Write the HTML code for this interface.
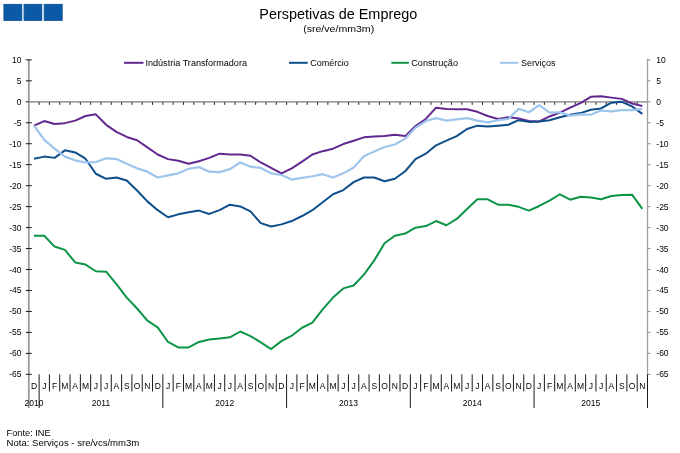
<!DOCTYPE html><html><head><meta charset="utf-8"><style>html,body{margin:0;padding:0;background:#fff;width:680px;height:453px;overflow:hidden}svg{display:block;will-change:transform}text{font-family:"Liberation Sans",sans-serif;fill:#000}</style></head><body>
<svg width="680" height="453" viewBox="0 0 680 453">
<rect width="680" height="453" fill="#fff"/>
<rect x="21.8" y="4.2" width="2.2" height="16.4" fill="#b9d7ef"/>
<rect x="41.8" y="4.2" width="2.4" height="16.4" fill="#b9d7ef"/>
<rect x="3.9" y="4.3" width="17.7" height="16.1" fill="#0A5AA8" stroke="#0B4C8E" stroke-width="0.8"/>
<rect x="24.2" y="4.3" width="17.4" height="16.1" fill="#0A5AA8" stroke="#0B4C8E" stroke-width="0.8"/>
<rect x="44.5" y="4.3" width="17.7" height="16.1" fill="#0A5AA8" stroke="#0B4C8E" stroke-width="0.8"/>
<text x="338.3" y="19" font-size="14" text-anchor="middle" textLength="158" lengthAdjust="spacingAndGlyphs">Perspetivas de Emprego</text>
<text x="338.7" y="32" font-size="9.5" text-anchor="middle" textLength="71" lengthAdjust="spacingAndGlyphs">(sre/ve/mm3m)</text>
<line x1="124" y1="62.8" x2="143.5" y2="62.8" stroke="#62288F" stroke-width="2"/>
<text x="145.4" y="65.8" font-size="8.5" textLength="101.6" lengthAdjust="spacingAndGlyphs">Indústria Transformadora</text>
<line x1="289" y1="62.8" x2="307.7" y2="62.8" stroke="#0E4E8B" stroke-width="2"/>
<text x="310.3" y="65.8" font-size="8.5" textLength="38.5" lengthAdjust="spacingAndGlyphs">Comércio</text>
<line x1="391.3" y1="62.8" x2="408.8" y2="62.8" stroke="#0E9447" stroke-width="2"/>
<text x="411.2" y="65.8" font-size="8.5" textLength="46.8" lengthAdjust="spacingAndGlyphs">Construção</text>
<line x1="499.9" y1="62.8" x2="518.4" y2="62.8" stroke="#9EC5EC" stroke-width="2"/>
<text x="521" y="65.8" font-size="8.5" textLength="34.4" lengthAdjust="spacingAndGlyphs">Serviços</text>
<line x1="28.8" y1="59" x2="28.8" y2="408" stroke="#9a9a9a" stroke-width="1.8"/>
<line x1="647.5" y1="59" x2="647.5" y2="374.5" stroke="#a0a0a0" stroke-width="1.3"/>
<line x1="25.8" y1="59.87" x2="31.8" y2="59.87" stroke="#1a1a1a" stroke-width="1"/>
<line x1="647.5" y1="59.87" x2="650.5" y2="59.87" stroke="#8c8c8c" stroke-width="1"/>
<text x="21.5" y="62.87" font-size="8.5" text-anchor="end">10</text>
<text x="656.3" y="62.87" font-size="8.5">10</text>
<line x1="25.8" y1="80.84" x2="31.8" y2="80.84" stroke="#1a1a1a" stroke-width="1"/>
<line x1="647.5" y1="80.84" x2="650.5" y2="80.84" stroke="#8c8c8c" stroke-width="1"/>
<text x="21.5" y="83.84" font-size="8.5" text-anchor="end">5</text>
<text x="656.3" y="83.84" font-size="8.5">5</text>
<line x1="25.8" y1="101.80" x2="31.8" y2="101.80" stroke="#1a1a1a" stroke-width="1"/>
<line x1="647.5" y1="101.80" x2="650.5" y2="101.80" stroke="#8c8c8c" stroke-width="1"/>
<text x="21.5" y="104.80" font-size="8.5" text-anchor="end">0</text>
<text x="656.3" y="104.80" font-size="8.5">0</text>
<line x1="25.8" y1="122.76" x2="31.8" y2="122.76" stroke="#1a1a1a" stroke-width="1"/>
<line x1="647.5" y1="122.76" x2="650.5" y2="122.76" stroke="#8c8c8c" stroke-width="1"/>
<text x="21.5" y="125.76" font-size="8.5" text-anchor="end">-5</text>
<text x="656.3" y="125.76" font-size="8.5">-5</text>
<line x1="25.8" y1="143.73" x2="31.8" y2="143.73" stroke="#1a1a1a" stroke-width="1"/>
<line x1="647.5" y1="143.73" x2="650.5" y2="143.73" stroke="#8c8c8c" stroke-width="1"/>
<text x="21.5" y="146.73" font-size="8.5" text-anchor="end">-10</text>
<text x="656.3" y="146.73" font-size="8.5">-10</text>
<line x1="25.8" y1="164.69" x2="31.8" y2="164.69" stroke="#1a1a1a" stroke-width="1"/>
<line x1="647.5" y1="164.69" x2="650.5" y2="164.69" stroke="#8c8c8c" stroke-width="1"/>
<text x="21.5" y="167.69" font-size="8.5" text-anchor="end">-15</text>
<text x="656.3" y="167.69" font-size="8.5">-15</text>
<line x1="25.8" y1="185.66" x2="31.8" y2="185.66" stroke="#1a1a1a" stroke-width="1"/>
<line x1="647.5" y1="185.66" x2="650.5" y2="185.66" stroke="#8c8c8c" stroke-width="1"/>
<text x="21.5" y="188.66" font-size="8.5" text-anchor="end">-20</text>
<text x="656.3" y="188.66" font-size="8.5">-20</text>
<line x1="25.8" y1="206.62" x2="31.8" y2="206.62" stroke="#1a1a1a" stroke-width="1"/>
<line x1="647.5" y1="206.62" x2="650.5" y2="206.62" stroke="#8c8c8c" stroke-width="1"/>
<text x="21.5" y="209.62" font-size="8.5" text-anchor="end">-25</text>
<text x="656.3" y="209.62" font-size="8.5">-25</text>
<line x1="25.8" y1="227.59" x2="31.8" y2="227.59" stroke="#1a1a1a" stroke-width="1"/>
<line x1="647.5" y1="227.59" x2="650.5" y2="227.59" stroke="#8c8c8c" stroke-width="1"/>
<text x="21.5" y="230.59" font-size="8.5" text-anchor="end">-30</text>
<text x="656.3" y="230.59" font-size="8.5">-30</text>
<line x1="25.8" y1="248.56" x2="31.8" y2="248.56" stroke="#1a1a1a" stroke-width="1"/>
<line x1="647.5" y1="248.56" x2="650.5" y2="248.56" stroke="#8c8c8c" stroke-width="1"/>
<text x="21.5" y="251.56" font-size="8.5" text-anchor="end">-35</text>
<text x="656.3" y="251.56" font-size="8.5">-35</text>
<line x1="25.8" y1="269.52" x2="31.8" y2="269.52" stroke="#1a1a1a" stroke-width="1"/>
<line x1="647.5" y1="269.52" x2="650.5" y2="269.52" stroke="#8c8c8c" stroke-width="1"/>
<text x="21.5" y="272.52" font-size="8.5" text-anchor="end">-40</text>
<text x="656.3" y="272.52" font-size="8.5">-40</text>
<line x1="25.8" y1="290.48" x2="31.8" y2="290.48" stroke="#1a1a1a" stroke-width="1"/>
<line x1="647.5" y1="290.48" x2="650.5" y2="290.48" stroke="#8c8c8c" stroke-width="1"/>
<text x="21.5" y="293.48" font-size="8.5" text-anchor="end">-45</text>
<text x="656.3" y="293.48" font-size="8.5">-45</text>
<line x1="25.8" y1="311.45" x2="31.8" y2="311.45" stroke="#1a1a1a" stroke-width="1"/>
<line x1="647.5" y1="311.45" x2="650.5" y2="311.45" stroke="#8c8c8c" stroke-width="1"/>
<text x="21.5" y="314.45" font-size="8.5" text-anchor="end">-50</text>
<text x="656.3" y="314.45" font-size="8.5">-50</text>
<line x1="25.8" y1="332.41" x2="31.8" y2="332.41" stroke="#1a1a1a" stroke-width="1"/>
<line x1="647.5" y1="332.41" x2="650.5" y2="332.41" stroke="#8c8c8c" stroke-width="1"/>
<text x="21.5" y="335.41" font-size="8.5" text-anchor="end">-55</text>
<text x="656.3" y="335.41" font-size="8.5">-55</text>
<line x1="25.8" y1="353.38" x2="31.8" y2="353.38" stroke="#1a1a1a" stroke-width="1"/>
<line x1="647.5" y1="353.38" x2="650.5" y2="353.38" stroke="#8c8c8c" stroke-width="1"/>
<text x="21.5" y="356.38" font-size="8.5" text-anchor="end">-60</text>
<text x="656.3" y="356.38" font-size="8.5">-60</text>
<line x1="25.8" y1="374.34" x2="31.8" y2="374.34" stroke="#1a1a1a" stroke-width="1"/>
<line x1="647.5" y1="374.34" x2="650.5" y2="374.34" stroke="#8c8c8c" stroke-width="1"/>
<text x="21.5" y="377.34" font-size="8.5" text-anchor="end">-65</text>
<text x="656.3" y="377.34" font-size="8.5">-65</text>
<line x1="28.8" y1="101.89999999999999" x2="647.5" y2="101.89999999999999" stroke="#a0a0a0" stroke-width="1.9"/>
<line x1="39.11" y1="102.3" x2="39.11" y2="104.8" stroke="#1a1a1a" stroke-width="1"/>
<line x1="49.42" y1="102.3" x2="49.42" y2="104.8" stroke="#1a1a1a" stroke-width="1"/>
<line x1="59.73" y1="102.3" x2="59.73" y2="104.8" stroke="#1a1a1a" stroke-width="1"/>
<line x1="70.05" y1="102.3" x2="70.05" y2="104.8" stroke="#1a1a1a" stroke-width="1"/>
<line x1="80.36" y1="102.3" x2="80.36" y2="104.8" stroke="#1a1a1a" stroke-width="1"/>
<line x1="90.67" y1="102.3" x2="90.67" y2="104.8" stroke="#1a1a1a" stroke-width="1"/>
<line x1="100.98" y1="102.3" x2="100.98" y2="104.8" stroke="#1a1a1a" stroke-width="1"/>
<line x1="111.29" y1="102.3" x2="111.29" y2="104.8" stroke="#1a1a1a" stroke-width="1"/>
<line x1="121.61" y1="102.3" x2="121.61" y2="104.8" stroke="#1a1a1a" stroke-width="1"/>
<line x1="131.92" y1="102.3" x2="131.92" y2="104.8" stroke="#1a1a1a" stroke-width="1"/>
<line x1="142.23" y1="102.3" x2="142.23" y2="104.8" stroke="#1a1a1a" stroke-width="1"/>
<line x1="152.54" y1="102.3" x2="152.54" y2="104.8" stroke="#1a1a1a" stroke-width="1"/>
<line x1="162.85" y1="102.3" x2="162.85" y2="104.8" stroke="#1a1a1a" stroke-width="1"/>
<line x1="173.16" y1="102.3" x2="173.16" y2="104.8" stroke="#1a1a1a" stroke-width="1"/>
<line x1="183.48" y1="102.3" x2="183.48" y2="104.8" stroke="#1a1a1a" stroke-width="1"/>
<line x1="193.79" y1="102.3" x2="193.79" y2="104.8" stroke="#1a1a1a" stroke-width="1"/>
<line x1="204.10" y1="102.3" x2="204.10" y2="104.8" stroke="#1a1a1a" stroke-width="1"/>
<line x1="214.41" y1="102.3" x2="214.41" y2="104.8" stroke="#1a1a1a" stroke-width="1"/>
<line x1="224.72" y1="102.3" x2="224.72" y2="104.8" stroke="#1a1a1a" stroke-width="1"/>
<line x1="235.03" y1="102.3" x2="235.03" y2="104.8" stroke="#1a1a1a" stroke-width="1"/>
<line x1="245.35" y1="102.3" x2="245.35" y2="104.8" stroke="#1a1a1a" stroke-width="1"/>
<line x1="255.66" y1="102.3" x2="255.66" y2="104.8" stroke="#1a1a1a" stroke-width="1"/>
<line x1="265.97" y1="102.3" x2="265.97" y2="104.8" stroke="#1a1a1a" stroke-width="1"/>
<line x1="276.28" y1="102.3" x2="276.28" y2="104.8" stroke="#1a1a1a" stroke-width="1"/>
<line x1="286.59" y1="102.3" x2="286.59" y2="104.8" stroke="#1a1a1a" stroke-width="1"/>
<line x1="296.90" y1="102.3" x2="296.90" y2="104.8" stroke="#1a1a1a" stroke-width="1"/>
<line x1="307.22" y1="102.3" x2="307.22" y2="104.8" stroke="#1a1a1a" stroke-width="1"/>
<line x1="317.53" y1="102.3" x2="317.53" y2="104.8" stroke="#1a1a1a" stroke-width="1"/>
<line x1="327.84" y1="102.3" x2="327.84" y2="104.8" stroke="#1a1a1a" stroke-width="1"/>
<line x1="338.15" y1="102.3" x2="338.15" y2="104.8" stroke="#1a1a1a" stroke-width="1"/>
<line x1="348.46" y1="102.3" x2="348.46" y2="104.8" stroke="#1a1a1a" stroke-width="1"/>
<line x1="358.77" y1="102.3" x2="358.77" y2="104.8" stroke="#1a1a1a" stroke-width="1"/>
<line x1="369.09" y1="102.3" x2="369.09" y2="104.8" stroke="#1a1a1a" stroke-width="1"/>
<line x1="379.40" y1="102.3" x2="379.40" y2="104.8" stroke="#1a1a1a" stroke-width="1"/>
<line x1="389.71" y1="102.3" x2="389.71" y2="104.8" stroke="#1a1a1a" stroke-width="1"/>
<line x1="400.02" y1="102.3" x2="400.02" y2="104.8" stroke="#1a1a1a" stroke-width="1"/>
<line x1="410.33" y1="102.3" x2="410.33" y2="104.8" stroke="#1a1a1a" stroke-width="1"/>
<line x1="420.64" y1="102.3" x2="420.64" y2="104.8" stroke="#1a1a1a" stroke-width="1"/>
<line x1="430.96" y1="102.3" x2="430.96" y2="104.8" stroke="#1a1a1a" stroke-width="1"/>
<line x1="441.27" y1="102.3" x2="441.27" y2="104.8" stroke="#1a1a1a" stroke-width="1"/>
<line x1="451.58" y1="102.3" x2="451.58" y2="104.8" stroke="#1a1a1a" stroke-width="1"/>
<line x1="461.89" y1="102.3" x2="461.89" y2="104.8" stroke="#1a1a1a" stroke-width="1"/>
<line x1="472.20" y1="102.3" x2="472.20" y2="104.8" stroke="#1a1a1a" stroke-width="1"/>
<line x1="482.51" y1="102.3" x2="482.51" y2="104.8" stroke="#1a1a1a" stroke-width="1"/>
<line x1="492.83" y1="102.3" x2="492.83" y2="104.8" stroke="#1a1a1a" stroke-width="1"/>
<line x1="503.14" y1="102.3" x2="503.14" y2="104.8" stroke="#1a1a1a" stroke-width="1"/>
<line x1="513.45" y1="102.3" x2="513.45" y2="104.8" stroke="#1a1a1a" stroke-width="1"/>
<line x1="523.76" y1="102.3" x2="523.76" y2="104.8" stroke="#1a1a1a" stroke-width="1"/>
<line x1="534.07" y1="102.3" x2="534.07" y2="104.8" stroke="#1a1a1a" stroke-width="1"/>
<line x1="544.38" y1="102.3" x2="544.38" y2="104.8" stroke="#1a1a1a" stroke-width="1"/>
<line x1="554.69" y1="102.3" x2="554.69" y2="104.8" stroke="#1a1a1a" stroke-width="1"/>
<line x1="565.01" y1="102.3" x2="565.01" y2="104.8" stroke="#1a1a1a" stroke-width="1"/>
<line x1="575.32" y1="102.3" x2="575.32" y2="104.8" stroke="#1a1a1a" stroke-width="1"/>
<line x1="585.63" y1="102.3" x2="585.63" y2="104.8" stroke="#1a1a1a" stroke-width="1"/>
<line x1="595.94" y1="102.3" x2="595.94" y2="104.8" stroke="#1a1a1a" stroke-width="1"/>
<line x1="606.25" y1="102.3" x2="606.25" y2="104.8" stroke="#1a1a1a" stroke-width="1"/>
<line x1="616.56" y1="102.3" x2="616.56" y2="104.8" stroke="#1a1a1a" stroke-width="1"/>
<line x1="626.88" y1="102.3" x2="626.88" y2="104.8" stroke="#1a1a1a" stroke-width="1"/>
<line x1="637.19" y1="102.3" x2="637.19" y2="104.8" stroke="#1a1a1a" stroke-width="1"/>
<polyline points="33.96,125.65 44.27,121.05 54.58,123.98 64.89,123.14 75.20,120.63 85.51,116.03 95.83,114.35 106.14,124.81 116.45,131.92 126.76,136.95 137.07,140.29 147.38,147.41 157.70,154.52 168.01,159.12 178.32,160.79 188.63,163.72 198.94,161.21 209.25,157.87 219.57,153.68 229.88,154.52 240.19,154.52 250.50,155.77 260.81,162.47 271.12,167.91 281.44,173.35 291.75,168.33 302.06,161.63 312.37,154.52 322.68,151.17 332.99,148.66 343.31,144.06 353.62,140.71 363.93,137.36 374.24,136.53 384.55,136.11 394.86,134.85 405.18,136.11 415.49,126.07 425.80,118.95 436.11,107.66 446.42,108.91 456.73,109.33 467.05,109.33 477.36,111.84 487.67,116.03 497.98,118.95 508.29,117.28 518.60,118.54 528.92,121.05 539.23,121.46 549.54,116.44 559.85,112.68 570.16,107.66 580.47,103.06 590.79,96.78 601.10,96.36 611.41,97.62 621.72,98.87 632.03,103.47 642.34,105.98" fill="none" stroke="#62288F" stroke-width="2.0" stroke-linejoin="round" stroke-linecap="butt"/>
<polyline points="33.96,158.70 44.27,156.61 54.58,157.87 64.89,150.33 75.20,152.43 85.51,158.70 95.83,173.76 106.14,178.79 116.45,177.53 126.76,180.46 137.07,190.50 147.38,201.38 157.70,210.17 168.01,217.28 178.32,214.35 188.63,212.26 198.94,210.58 209.25,213.93 219.57,210.17 229.88,204.73 240.19,206.40 250.50,211.42 260.81,223.14 271.12,226.48 281.44,224.39 291.75,221.04 302.06,216.02 312.37,210.17 322.68,202.22 332.99,194.27 343.31,190.08 353.62,182.13 363.93,177.53 374.24,177.53 384.55,181.30 394.86,178.79 405.18,171.25 415.49,159.12 425.80,153.68 436.11,145.31 446.42,140.71 456.73,136.11 467.05,129.00 477.36,125.65 487.67,126.49 497.98,125.65 508.29,124.81 518.60,120.21 528.92,121.88 539.23,121.46 549.54,120.21 559.85,117.28 570.16,114.77 580.47,113.10 590.79,109.75 601.10,108.49 611.41,102.64 621.72,101.80 632.03,106.40 642.34,113.93" fill="none" stroke="#0E4E8B" stroke-width="2.0" stroke-linejoin="round" stroke-linecap="butt"/>
<polyline points="33.96,235.69 44.27,235.69 54.58,246.57 64.89,249.91 75.20,262.47 85.51,264.56 95.83,271.25 106.14,271.67 116.45,284.22 126.76,297.61 137.07,308.49 147.38,320.62 157.70,327.32 168.01,341.96 178.32,347.40 188.63,347.40 198.94,341.96 209.25,339.45 219.57,338.61 229.88,337.36 240.19,331.50 250.50,336.10 260.81,342.38 271.12,349.07 281.44,341.12 291.75,335.69 302.06,327.74 312.37,322.72 322.68,309.33 332.99,297.61 343.31,288.41 353.62,285.48 363.93,274.60 374.24,260.37 384.55,243.22 394.86,235.69 405.18,233.60 415.49,227.74 425.80,226.06 436.11,221.04 446.42,225.23 456.73,218.95 467.05,208.91 477.36,199.29 487.67,199.29 497.98,204.73 508.29,204.73 518.60,206.82 528.92,210.58 539.23,205.98 549.54,200.54 559.85,194.27 570.16,199.71 580.47,196.78 590.79,197.61 601.10,199.29 611.41,195.94 621.72,195.10 632.03,194.68 642.34,208.91" fill="none" stroke="#0E9447" stroke-width="2.0" stroke-linejoin="round" stroke-linecap="butt"/>
<polyline points="33.96,125.65 44.27,139.87 54.58,148.66 64.89,156.61 75.20,160.38 85.51,162.47 95.83,162.05 106.14,158.28 116.45,159.12 126.76,163.72 137.07,168.33 147.38,171.67 157.70,177.53 168.01,175.44 178.32,173.35 188.63,168.74 198.94,167.07 209.25,171.67 219.57,172.09 229.88,169.16 240.19,162.47 250.50,166.65 260.81,167.91 271.12,173.35 281.44,175.02 291.75,179.62 302.06,177.95 312.37,176.28 322.68,174.18 332.99,177.53 343.31,173.35 353.62,167.49 363.93,156.19 374.24,151.59 384.55,146.99 394.86,144.48 405.18,138.62 415.49,127.74 425.80,121.05 436.11,118.12 446.42,120.63 456.73,119.37 467.05,118.12 477.36,120.63 487.67,122.30 497.98,120.21 508.29,118.95 518.60,108.91 528.92,112.26 539.23,105.15 549.54,112.68 559.85,112.26 570.16,115.61 580.47,114.35 590.79,114.77 601.10,110.59 611.41,111.42 621.72,110.17 632.03,110.17 642.34,108.91" fill="none" stroke="#9EC5EC" stroke-width="2.2" stroke-linejoin="round" stroke-linecap="butt"/>
<line x1="39.11" y1="374.34" x2="39.11" y2="408" stroke="#1a1a1a" stroke-width="1"/>
<line x1="49.42" y1="374.34" x2="49.42" y2="391.5" stroke="#1a1a1a" stroke-width="1"/>
<line x1="59.73" y1="374.34" x2="59.73" y2="391.5" stroke="#1a1a1a" stroke-width="1"/>
<line x1="70.05" y1="374.34" x2="70.05" y2="391.5" stroke="#1a1a1a" stroke-width="1"/>
<line x1="80.36" y1="374.34" x2="80.36" y2="391.5" stroke="#1a1a1a" stroke-width="1"/>
<line x1="90.67" y1="374.34" x2="90.67" y2="391.5" stroke="#1a1a1a" stroke-width="1"/>
<line x1="100.98" y1="374.34" x2="100.98" y2="391.5" stroke="#1a1a1a" stroke-width="1"/>
<line x1="111.29" y1="374.34" x2="111.29" y2="391.5" stroke="#1a1a1a" stroke-width="1"/>
<line x1="121.61" y1="374.34" x2="121.61" y2="391.5" stroke="#1a1a1a" stroke-width="1"/>
<line x1="131.92" y1="374.34" x2="131.92" y2="391.5" stroke="#1a1a1a" stroke-width="1"/>
<line x1="142.23" y1="374.34" x2="142.23" y2="391.5" stroke="#1a1a1a" stroke-width="1"/>
<line x1="152.54" y1="374.34" x2="152.54" y2="391.5" stroke="#1a1a1a" stroke-width="1"/>
<line x1="162.85" y1="374.34" x2="162.85" y2="408" stroke="#1a1a1a" stroke-width="1"/>
<line x1="173.16" y1="374.34" x2="173.16" y2="391.5" stroke="#1a1a1a" stroke-width="1"/>
<line x1="183.48" y1="374.34" x2="183.48" y2="391.5" stroke="#1a1a1a" stroke-width="1"/>
<line x1="193.79" y1="374.34" x2="193.79" y2="391.5" stroke="#1a1a1a" stroke-width="1"/>
<line x1="204.10" y1="374.34" x2="204.10" y2="391.5" stroke="#1a1a1a" stroke-width="1"/>
<line x1="214.41" y1="374.34" x2="214.41" y2="391.5" stroke="#1a1a1a" stroke-width="1"/>
<line x1="224.72" y1="374.34" x2="224.72" y2="391.5" stroke="#1a1a1a" stroke-width="1"/>
<line x1="235.03" y1="374.34" x2="235.03" y2="391.5" stroke="#1a1a1a" stroke-width="1"/>
<line x1="245.35" y1="374.34" x2="245.35" y2="391.5" stroke="#1a1a1a" stroke-width="1"/>
<line x1="255.66" y1="374.34" x2="255.66" y2="391.5" stroke="#1a1a1a" stroke-width="1"/>
<line x1="265.97" y1="374.34" x2="265.97" y2="391.5" stroke="#1a1a1a" stroke-width="1"/>
<line x1="276.28" y1="374.34" x2="276.28" y2="391.5" stroke="#1a1a1a" stroke-width="1"/>
<line x1="286.59" y1="374.34" x2="286.59" y2="408" stroke="#1a1a1a" stroke-width="1"/>
<line x1="296.90" y1="374.34" x2="296.90" y2="391.5" stroke="#1a1a1a" stroke-width="1"/>
<line x1="307.22" y1="374.34" x2="307.22" y2="391.5" stroke="#1a1a1a" stroke-width="1"/>
<line x1="317.53" y1="374.34" x2="317.53" y2="391.5" stroke="#1a1a1a" stroke-width="1"/>
<line x1="327.84" y1="374.34" x2="327.84" y2="391.5" stroke="#1a1a1a" stroke-width="1"/>
<line x1="338.15" y1="374.34" x2="338.15" y2="391.5" stroke="#1a1a1a" stroke-width="1"/>
<line x1="348.46" y1="374.34" x2="348.46" y2="391.5" stroke="#1a1a1a" stroke-width="1"/>
<line x1="358.77" y1="374.34" x2="358.77" y2="391.5" stroke="#1a1a1a" stroke-width="1"/>
<line x1="369.09" y1="374.34" x2="369.09" y2="391.5" stroke="#1a1a1a" stroke-width="1"/>
<line x1="379.40" y1="374.34" x2="379.40" y2="391.5" stroke="#1a1a1a" stroke-width="1"/>
<line x1="389.71" y1="374.34" x2="389.71" y2="391.5" stroke="#1a1a1a" stroke-width="1"/>
<line x1="400.02" y1="374.34" x2="400.02" y2="391.5" stroke="#1a1a1a" stroke-width="1"/>
<line x1="410.33" y1="374.34" x2="410.33" y2="408" stroke="#1a1a1a" stroke-width="1"/>
<line x1="420.64" y1="374.34" x2="420.64" y2="391.5" stroke="#1a1a1a" stroke-width="1"/>
<line x1="430.96" y1="374.34" x2="430.96" y2="391.5" stroke="#1a1a1a" stroke-width="1"/>
<line x1="441.27" y1="374.34" x2="441.27" y2="391.5" stroke="#1a1a1a" stroke-width="1"/>
<line x1="451.58" y1="374.34" x2="451.58" y2="391.5" stroke="#1a1a1a" stroke-width="1"/>
<line x1="461.89" y1="374.34" x2="461.89" y2="391.5" stroke="#1a1a1a" stroke-width="1"/>
<line x1="472.20" y1="374.34" x2="472.20" y2="391.5" stroke="#1a1a1a" stroke-width="1"/>
<line x1="482.51" y1="374.34" x2="482.51" y2="391.5" stroke="#1a1a1a" stroke-width="1"/>
<line x1="492.83" y1="374.34" x2="492.83" y2="391.5" stroke="#1a1a1a" stroke-width="1"/>
<line x1="503.14" y1="374.34" x2="503.14" y2="391.5" stroke="#1a1a1a" stroke-width="1"/>
<line x1="513.45" y1="374.34" x2="513.45" y2="391.5" stroke="#1a1a1a" stroke-width="1"/>
<line x1="523.76" y1="374.34" x2="523.76" y2="391.5" stroke="#1a1a1a" stroke-width="1"/>
<line x1="534.07" y1="374.34" x2="534.07" y2="408" stroke="#1a1a1a" stroke-width="1"/>
<line x1="544.38" y1="374.34" x2="544.38" y2="391.5" stroke="#1a1a1a" stroke-width="1"/>
<line x1="554.69" y1="374.34" x2="554.69" y2="391.5" stroke="#1a1a1a" stroke-width="1"/>
<line x1="565.01" y1="374.34" x2="565.01" y2="391.5" stroke="#1a1a1a" stroke-width="1"/>
<line x1="575.32" y1="374.34" x2="575.32" y2="391.5" stroke="#1a1a1a" stroke-width="1"/>
<line x1="585.63" y1="374.34" x2="585.63" y2="391.5" stroke="#1a1a1a" stroke-width="1"/>
<line x1="595.94" y1="374.34" x2="595.94" y2="391.5" stroke="#1a1a1a" stroke-width="1"/>
<line x1="606.25" y1="374.34" x2="606.25" y2="391.5" stroke="#1a1a1a" stroke-width="1"/>
<line x1="616.56" y1="374.34" x2="616.56" y2="391.5" stroke="#1a1a1a" stroke-width="1"/>
<line x1="626.88" y1="374.34" x2="626.88" y2="391.5" stroke="#1a1a1a" stroke-width="1"/>
<line x1="637.19" y1="374.34" x2="637.19" y2="391.5" stroke="#1a1a1a" stroke-width="1"/>
<line x1="647.50" y1="374.34" x2="647.50" y2="408" stroke="#1a1a1a" stroke-width="1"/>
<text x="33.96" y="388.8" font-size="8.5" text-anchor="middle">D</text>
<text x="44.27" y="388.8" font-size="8.5" text-anchor="middle">J</text>
<text x="54.58" y="388.8" font-size="8.5" text-anchor="middle">F</text>
<text x="64.89" y="388.8" font-size="8.5" text-anchor="middle">M</text>
<text x="75.20" y="388.8" font-size="8.5" text-anchor="middle">A</text>
<text x="85.51" y="388.8" font-size="8.5" text-anchor="middle">M</text>
<text x="95.83" y="388.8" font-size="8.5" text-anchor="middle">J</text>
<text x="106.14" y="388.8" font-size="8.5" text-anchor="middle">J</text>
<text x="116.45" y="388.8" font-size="8.5" text-anchor="middle">A</text>
<text x="126.76" y="388.8" font-size="8.5" text-anchor="middle">S</text>
<text x="137.07" y="388.8" font-size="8.5" text-anchor="middle">O</text>
<text x="147.38" y="388.8" font-size="8.5" text-anchor="middle">N</text>
<text x="157.70" y="388.8" font-size="8.5" text-anchor="middle">D</text>
<text x="168.01" y="388.8" font-size="8.5" text-anchor="middle">J</text>
<text x="178.32" y="388.8" font-size="8.5" text-anchor="middle">F</text>
<text x="188.63" y="388.8" font-size="8.5" text-anchor="middle">M</text>
<text x="198.94" y="388.8" font-size="8.5" text-anchor="middle">A</text>
<text x="209.25" y="388.8" font-size="8.5" text-anchor="middle">M</text>
<text x="219.57" y="388.8" font-size="8.5" text-anchor="middle">J</text>
<text x="229.88" y="388.8" font-size="8.5" text-anchor="middle">J</text>
<text x="240.19" y="388.8" font-size="8.5" text-anchor="middle">A</text>
<text x="250.50" y="388.8" font-size="8.5" text-anchor="middle">S</text>
<text x="260.81" y="388.8" font-size="8.5" text-anchor="middle">O</text>
<text x="271.12" y="388.8" font-size="8.5" text-anchor="middle">N</text>
<text x="281.44" y="388.8" font-size="8.5" text-anchor="middle">D</text>
<text x="291.75" y="388.8" font-size="8.5" text-anchor="middle">J</text>
<text x="302.06" y="388.8" font-size="8.5" text-anchor="middle">F</text>
<text x="312.37" y="388.8" font-size="8.5" text-anchor="middle">M</text>
<text x="322.68" y="388.8" font-size="8.5" text-anchor="middle">A</text>
<text x="332.99" y="388.8" font-size="8.5" text-anchor="middle">M</text>
<text x="343.31" y="388.8" font-size="8.5" text-anchor="middle">J</text>
<text x="353.62" y="388.8" font-size="8.5" text-anchor="middle">J</text>
<text x="363.93" y="388.8" font-size="8.5" text-anchor="middle">A</text>
<text x="374.24" y="388.8" font-size="8.5" text-anchor="middle">S</text>
<text x="384.55" y="388.8" font-size="8.5" text-anchor="middle">O</text>
<text x="394.86" y="388.8" font-size="8.5" text-anchor="middle">N</text>
<text x="405.18" y="388.8" font-size="8.5" text-anchor="middle">D</text>
<text x="415.49" y="388.8" font-size="8.5" text-anchor="middle">J</text>
<text x="425.80" y="388.8" font-size="8.5" text-anchor="middle">F</text>
<text x="436.11" y="388.8" font-size="8.5" text-anchor="middle">M</text>
<text x="446.42" y="388.8" font-size="8.5" text-anchor="middle">A</text>
<text x="456.73" y="388.8" font-size="8.5" text-anchor="middle">M</text>
<text x="467.05" y="388.8" font-size="8.5" text-anchor="middle">J</text>
<text x="477.36" y="388.8" font-size="8.5" text-anchor="middle">J</text>
<text x="487.67" y="388.8" font-size="8.5" text-anchor="middle">A</text>
<text x="497.98" y="388.8" font-size="8.5" text-anchor="middle">S</text>
<text x="508.29" y="388.8" font-size="8.5" text-anchor="middle">O</text>
<text x="518.60" y="388.8" font-size="8.5" text-anchor="middle">N</text>
<text x="528.92" y="388.8" font-size="8.5" text-anchor="middle">D</text>
<text x="539.23" y="388.8" font-size="8.5" text-anchor="middle">J</text>
<text x="549.54" y="388.8" font-size="8.5" text-anchor="middle">F</text>
<text x="559.85" y="388.8" font-size="8.5" text-anchor="middle">M</text>
<text x="570.16" y="388.8" font-size="8.5" text-anchor="middle">A</text>
<text x="580.47" y="388.8" font-size="8.5" text-anchor="middle">M</text>
<text x="590.79" y="388.8" font-size="8.5" text-anchor="middle">J</text>
<text x="601.10" y="388.8" font-size="8.5" text-anchor="middle">J</text>
<text x="611.41" y="388.8" font-size="8.5" text-anchor="middle">A</text>
<text x="621.72" y="388.8" font-size="8.5" text-anchor="middle">S</text>
<text x="632.03" y="388.8" font-size="8.5" text-anchor="middle">O</text>
<text x="642.34" y="388.8" font-size="8.5" text-anchor="middle">N</text>
<text x="33.96" y="405.8" font-size="8.5" text-anchor="middle">2010</text>
<text x="100.98" y="405.8" font-size="8.5" text-anchor="middle">2011</text>
<text x="224.72" y="405.8" font-size="8.5" text-anchor="middle">2012</text>
<text x="348.46" y="405.8" font-size="8.5" text-anchor="middle">2013</text>
<text x="472.20" y="405.8" font-size="8.5" text-anchor="middle">2014</text>
<text x="590.79" y="405.8" font-size="8.5" text-anchor="middle">2015</text>
<text x="6.6" y="436.3" font-size="9" textLength="44" lengthAdjust="spacingAndGlyphs">Fonte: INE</text>
<text x="6.6" y="445.7" font-size="9" textLength="132.7" lengthAdjust="spacingAndGlyphs">Nota: Serviços - sre/vcs/mm3m</text>
</svg></body></html>
